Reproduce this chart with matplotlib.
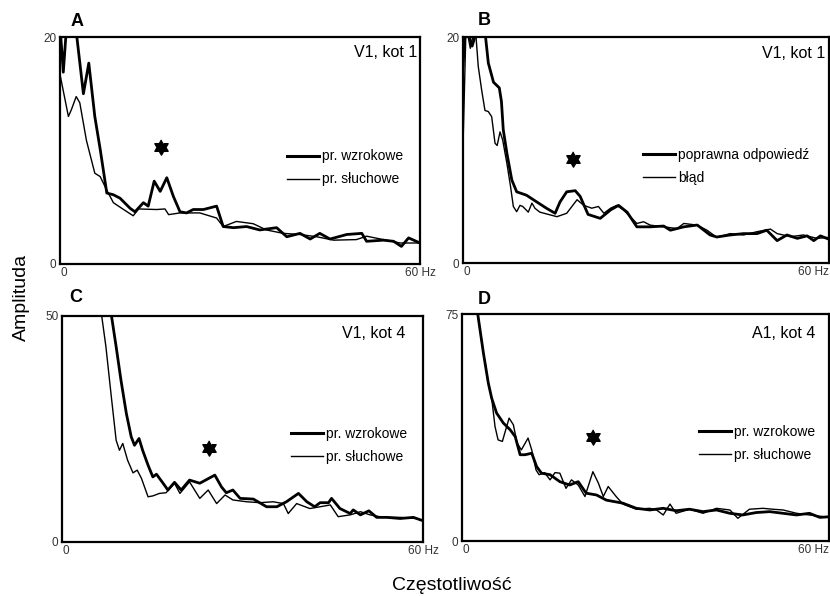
import numpy as np
import matplotlib
matplotlib.use("Agg")
import matplotlib.pyplot as plt
from matplotlib.lines import Line2D

plt.rcParams['font.family'] = ['Liberation Sans', 'DejaVu Sans']

# ---- data (Hz, amplitude) ----
# panel A: V1, kot 1
a_vis_hz = [0, 0.55, 1.1, 2.7, 3.9, 4.8, 5.8, 6.7, 7.8, 8.9, 10, 11.7, 12.5, 13.9, 14.7,
            15.7, 16.7, 17.8, 18.9, 20, 21.1, 22.2, 23.9, 26.1, 27.2, 28.9, 31.1, 33.3,
            36.1, 37.8, 40, 41.7, 43.3, 45, 47.8, 50.3, 51.1, 53.9, 55.6, 56.9, 58.1, 60]
a_vis = [21, 16.9, 21, 20.5, 15.0, 17.7, 13.0, 10.1, 6.25, 6.1, 5.8, 4.9, 4.6, 5.4, 5.1,
         7.3, 6.4, 7.6, 5.95, 4.6, 4.5, 4.8, 4.8, 5.1, 3.3, 3.2, 3.3, 3.0,
         3.2, 2.4, 2.7, 2.2, 2.7, 2.2, 2.6, 2.7, 2.0, 2.1, 2.0, 1.55, 2.3, 1.85]
a_aud_hz = [0, 1.4, 1.9, 2.7, 3.3, 4.4, 5.8, 6.7, 7.8, 8.9, 10.6, 12.2, 13.1, 16.1, 17.5,
            18.1, 20, 23.3, 26.1, 27.2, 29.4, 32.2, 34.4, 37.2, 40, 42.8, 45.6, 49.4,
            51.1, 53.9, 56.7, 60]
a_aud = [16.7, 13.0, 13.6, 14.75, 14.2, 10.9, 8.0, 7.7, 6.5, 5.4, 4.8, 4.25, 4.85, 4.8, 4.85,
         4.35, 4.5, 4.5, 4.05, 3.3, 3.75, 3.55, 3.0, 2.7, 2.6, 2.4, 2.1, 2.15,
         2.45, 2.15, 1.85, 1.85]

# panel B: V1, kot 1 (correct vs error)
b_ok_hz = [0, 0.4, 1.5, 2.5, 3.6, 4.15, 5.0, 5.95, 6.3, 6.6, 7.2, 8.0, 8.8, 10.4, 12.1, 13.7,
           15.1, 15.9, 17.0, 18.4, 19.2, 20.5, 22.5, 24.2, 25.5, 26.9, 28.5, 30.7, 32.9,
           34, 36.2, 38.4, 40.5, 41.6, 43.8, 46, 48.2, 49.8, 51.5, 53.1, 54.8, 56.4,
           57.5, 58.6, 60]
b_ok = [17.4, 21, 19.2, 21, 20.5, 17.7, 16.0, 15.5, 14.3, 11.8, 9.7, 7.35, 6.3, 6.0, 5.4, 4.84,
        4.4, 5.4, 6.3, 6.4, 5.9, 4.3, 3.95, 4.7, 5.1, 4.5, 3.2, 3.2, 3.27,
        2.9, 3.2, 3.36, 2.48, 2.3, 2.48, 2.6, 2.6, 2.9, 1.98, 2.48, 2.18, 2.4,
        1.98, 2.4, 2.1]
b_err_hz = [0, 0.5, 1.2, 2.0, 2.5, 3.06, 3.6, 4.15, 4.7, 5.25, 5.6, 6.07, 6.5, 7.2, 7.8,
            8.25, 8.8, 9.34, 9.8, 10.7, 11.3, 11.8, 12.6, 15.4, 17.0, 18.7, 19.8, 21.1,
            22.2, 23.1, 24.2, 25.2, 26.3, 27.4, 28.5, 29.6, 30.7, 32.9, 35.1, 36.2,
            38.4, 40, 41.6, 43.8, 46, 48.2, 50.4, 51.5, 53.7, 55.8, 58, 60]
b_err = [10.3, 21, 19.0, 21, 17.4, 15.3, 13.5, 13.4, 12.95, 10.6, 10.4, 11.6, 10.9, 8.8, 6.75,
         5.0, 4.54, 5.1, 5.0, 4.5, 5.3, 4.84, 4.5, 4.1, 4.4, 5.6, 5.1, 4.85,
         5.0, 4.4, 4.85, 5.1, 4.7, 4.1, 3.5, 3.65, 3.35, 3.2, 3.05, 3.5,
         3.35, 2.9, 2.27, 2.6, 2.48, 2.77, 3.0, 2.6, 2.33, 2.48, 2.18, 2.27]

# panel C: V1, kot 4
c_vis_hz = [8.0, 9.0, 9.8, 10.7, 11.5, 12.05, 12.8, 13.4, 14.3, 15.1, 15.7, 16.8, 17.6,
            18.7, 19.8, 21.2, 22.9, 25.4, 26.5, 27.3, 28.4, 29.6, 31.8, 34, 35.7, 37.3,
            39.3, 40.7, 42, 42.9, 44.3, 44.8, 46.2, 47.9, 48.4, 49.6, 51, 52.3, 54,
            56.2, 58.4, 60]
c_vis = [52, 43.2, 35.8, 28.4, 23.3, 21.4, 22.9, 20.3, 17.0, 14.4, 15.0, 13.0, 11.5,
         13.2, 11.5, 13.7, 13.0, 14.8, 12.2, 10.9, 11.5, 9.65, 9.5, 7.8, 7.8, 8.9,
         10.75, 8.9, 7.8, 8.7, 8.7, 9.65, 7.4, 6.3, 7.1, 6.0, 6.9, 5.45, 5.45,
         5.2, 5.45, 4.7]
c_aud_hz = [6.5, 7.3, 8.2, 9.0, 9.55, 10.1, 10.9, 11.8, 12.5, 13.2, 14.3, 15.1, 16.2, 17.3,
            18.7, 19.6, 21.2, 22.9, 24.3, 25.7, 27.1, 28.4, 30.7, 32.9, 35.1, 36.8, 37.6,
            39, 41.2, 42.9, 44.6, 45.9, 47.9, 49.6, 51.2, 53.4, 56.2, 59, 60]
c_aud = [51, 43.2, 32.1, 22.5, 20.3, 21.8, 18.1, 15.3, 15.9, 14.1, 10.0, 10.2, 10.75, 10.9,
         13.0, 10.75, 13.3, 9.65, 11.5, 8.5, 10.4, 9.3, 8.9, 8.7, 8.9, 8.5, 6.3,
         8.5, 7.4, 7.8, 8.2, 5.6, 6.0, 6.7, 6.0, 5.45, 5.45, 5.2, 4.7]

# panel D: A1, kot 4
d_vis_hz = [2.5, 3.5, 4.3, 4.85, 5.65, 6.75, 7.85, 8.7, 9.5, 10.3, 11.4, 12.2, 13.0, 14.4,
            16.0, 17.6, 19.0, 20.3, 22.0, 23.6, 26.3, 28.5, 30.7, 32.9, 35.0, 37.2, 39.4,
            41.6, 43.8, 45.9, 48.1, 50.3, 52.5, 54.7, 56.8, 58.5, 60]
d_vis = [76, 62.1, 52.2, 47.2, 42.3, 39.0, 36.8, 34.5, 28.5, 28.5, 29.0, 24.6, 22.4, 21.9,
         19.6, 18.5, 19.6, 15.8, 15.2, 13.5, 12.5, 10.8, 10.25, 10.8, 10.0, 10.5, 9.7,
         10.25, 9.15, 8.6, 9.4, 9.7, 9.15, 8.6, 9.15, 7.8, 8.0]
d_aud_hz = [2.5, 3.5, 4.3, 4.85, 5.4, 5.9, 6.6, 7.3, 7.7, 8.4, 9.0, 9.7, 10.8, 11.4, 12.1,
            12.6, 13.5, 14.4, 15.2, 16.0, 17.0, 17.9, 19.0, 20.1, 21.4, 22.3, 23.1, 23.9,
            25.2, 26.3, 28.5, 30.7, 31.8, 32.9, 34.0, 35.0, 37.2, 39.4, 41.6, 43.8,
            45.1, 47.0, 49.2, 50.8, 52.5, 54.7, 56.8, 60]
d_aud = [76, 62.1, 52.2, 47.2, 37.8, 33.4, 32.9, 37.8, 40.6, 38.4, 32.4, 30.1, 34.0, 30.1, 23.5,
         21.9, 22.6, 20.2, 22.6, 22.4, 17.4, 20.2, 18.5, 14.7, 22.9, 19.1, 14.7, 18.0,
         14.7, 12.2, 10.5, 10.8, 10.25, 8.6, 12.2, 9.15, 10.5, 9.15, 10.8, 10.25,
         7.5, 10.5, 10.8, 10.5, 10.25, 9.15, 8.6, 7.8]

panel_letters = ['A', 'B', 'C', 'D']
panel_titles = ['V1, kot 1', 'V1, kot 1', 'V1, kot 4', 'A1, kot 4']
y_tops = [20, 20, 50, 75]
legend_labels = [['pr. wzrokowe', 'pr. słuchowe'],
                 ['poprawna odpowiedź', 'błąd'],
                 ['pr. wzrokowe', 'pr. słuchowe'],
                 ['pr. wzrokowe', 'pr. słuchowe']]
star_hz = [16.8, 18.0, 24.4, 21.4]
star_amp = [10.3, 9.2, 20.9, 34.2]

thick_series = [(a_vis_hz, a_vis), (b_ok_hz, b_ok), (c_vis_hz, c_vis), (d_vis_hz, d_vis)]
thin_series = [(a_aud_hz, a_aud), (b_err_hz, b_err), (c_aud_hz, c_aud), (d_aud_hz, d_aud)]

# ---- layout (figure fractions) ----
W, H = 830, 596
boxes_px = [(60, 37, 420, 264), (463, 37, 829, 263), (62, 316, 423, 542), (462, 314, 829, 541)]
letter_pos = [(0.046, 1.07), (0.057, 1.071), (0.039, 1.08), (0.06, 1.066)]
title_pos = [(0.992, 0.93), (0.989, 0.929), (0.95, 0.923), (0.962, 0.916)]
legend_pos = [(0.63, 0.423), (0.492, 0.428), (0.634, 0.426), (0.646, 0.429)]

# six-pointed star marker
ang = np.deg2rad(90 + 30 * np.arange(12))
rad = np.where(np.arange(12) % 2 == 0, 1.0, 1 / np.sqrt(3))
star_verts = list(zip(rad * np.cos(ang), rad * np.sin(ang)))

fig = plt.figure(figsize=(W / 100, H / 100), dpi=100)

for i in range(4):
    x0, y0, x1, y1 = boxes_px[i]
    ax = fig.add_axes([x0 / W, 1 - y1 / H, (x1 - x0) / W, (y1 - y0) / H])
    hz, amp = thick_series[i]
    ax.plot(hz, amp, color='black', lw=2.0, solid_joinstyle='round')
    hz, amp = thin_series[i]
    ax.plot(hz, amp, color='black', lw=1.0)
    ax.plot(star_hz[i], star_amp[i], marker=star_verts, ms=11, color='black', ls='none')

    ax.set_xlim(0, 60)
    ax.set_ylim(0, y_tops[i])
    ax.set_xticks([0, 60])
    ax.set_xticklabels(['0', '60 Hz'])
    ax.set_yticks([0, y_tops[i]])
    ax.set_yticklabels(['0', str(y_tops[i])])
    ax.tick_params(length=0, labelsize=8.5, labelcolor='#333333', pad=2.5)
    xl = ax.get_xticklabels()
    xl[0].set_ha('left')
    if i % 2 == 1:
        xl[1].set_ha('right')
    for s in ax.spines.values():
        s.set_linewidth(1.6)

    ax.text(*letter_pos[i], panel_letters[i], transform=ax.transAxes,
            ha='center', va='center', fontsize=13, fontweight='bold')
    ax.text(*title_pos[i], panel_titles[i], transform=ax.transAxes,
            ha='right', va='center', fontsize=11.5)

    handles = [Line2D([], [], color='black', lw=2.2), Line2D([], [], color='black', lw=1.0)]
    ax.legend(handles, legend_labels[i], loc='center left', bbox_to_anchor=legend_pos[i],
              frameon=False, fontsize=10, handlelength=2.3, handletextpad=0.2,
              borderpad=0, borderaxespad=0, labelspacing=0.65)

fig.text(21.5 / W, 1 - 297 / H, 'Amplituda', rotation=90, ha='center', va='center', fontsize=14)
fig.text(452 / W, 1 - 585 / H, 'Częstotliwość', ha='center', va='center', fontsize=14)

fig.savefig('out.png', dpi=100)
